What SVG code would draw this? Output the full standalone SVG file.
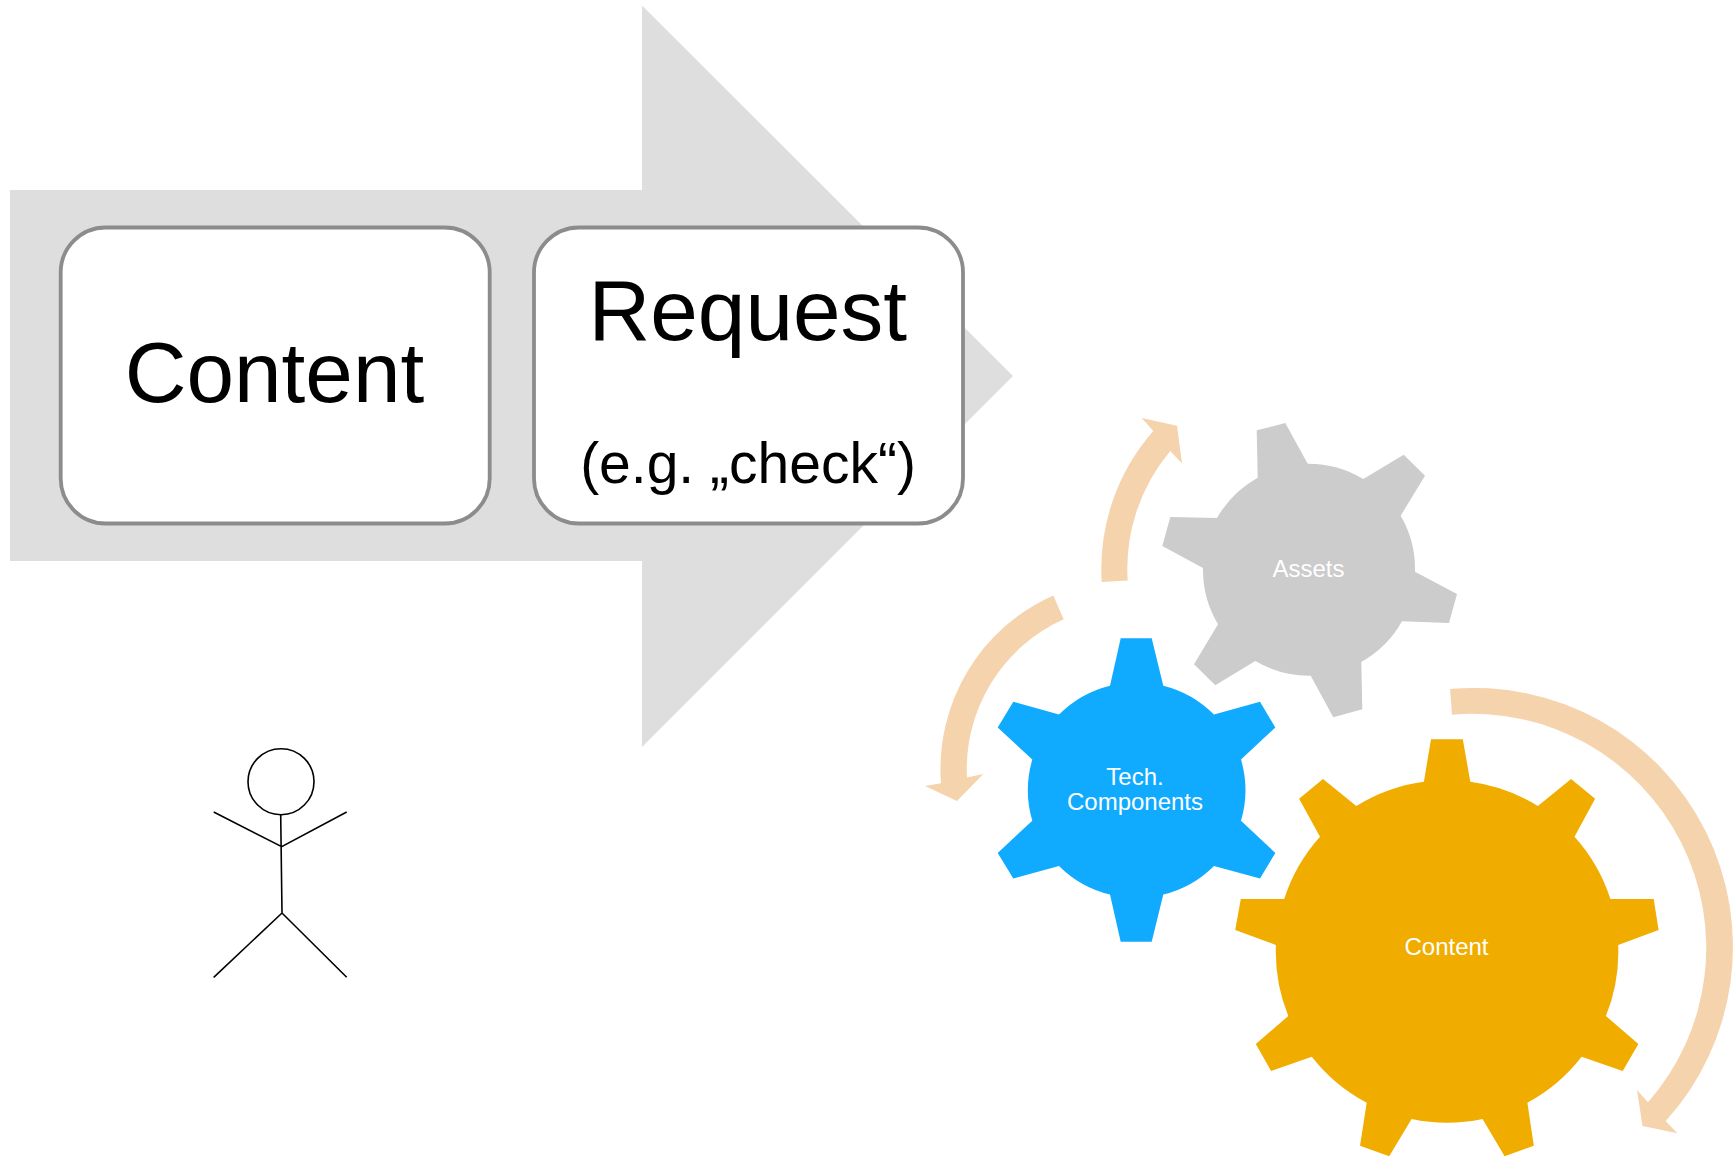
<svg xmlns="http://www.w3.org/2000/svg" width="1736" height="1157" viewBox="0 0 1736 1157">
<style>
text{font-family:"Liberation Sans",Arial,sans-serif;text-anchor:middle}
.box{fill:#fff;stroke:#8c8c8c;stroke-width:3.8}
.big{font-size:85.5px;fill:#000}
.sub{font-size:57px;fill:#000}
.lbl{font-size:24px;fill:#fff}
.turn{fill:#f5d3ad}
.fig{fill:none;stroke:#000;stroke-width:1.6}
</style>
<rect width="1736" height="1157" fill="#fff"/>
<g id="big-arrow"><polygon points="10,190 642,190 642,5.5 1013,376 642,747 642,561 10,561" fill="#dedede"/></g>
<g id="box-content">
<rect class="box" x="60.7" y="227.5" width="429" height="296" rx="45" ry="45"/>
<text class="big" x="274.5" y="401.5">Content</text>
</g>
<g id="box-request">
<rect class="box" x="534" y="227.5" width="429" height="296" rx="45" ry="45"/>
<text class="big" x="747.8" y="339.5">Request</text>
<text class="sub" x="748" y="483">(e.g. „check“)</text>
</g>
<g id="actor">
<circle class="fig" cx="281" cy="781.7" r="33"/>
<path class="fig" d="M280.7,814.7 L282,913 M213.7,812 L281.7,846.7 L346.7,812 M213.7,977.3 L282,913 L346.7,977.3"/>
</g>
<g id="gear-assets">
<path fill="#cccccc" d="M1256.7,430.3 L1285.3,423 L1307.7,463.7 A106 106 0 0 1 1363.3,479 L1403.7,454.7 L1425,475.7 L1400.7,515.7 A106 106 0 0 1 1415,571.7 L1457,594 L1449,623 L1402,621.3 A106 106 0 0 1 1361.3,662 L1362.3,709.3 L1333.3,717.3 L1310.7,675.7 A106 106 0 0 1 1255.3,661 L1215.3,685.3 L1194,664.3 L1218,624.3 A106 106 0 0 1 1203,568 L1162.3,546 L1170.3,517 L1217,518 A106 106 0 0 1 1257.7,477.7 Z"/>
<text class="lbl" x="1308.5" y="577">Assets</text>
</g>
<g id="gear-tech">
<path fill="#10aaff" d="M1120.7,638.2 L1151.7,638.2 L1163.3,685.7 A108 108 0 0 1 1214,714.6 L1260,701.8 L1275.3,727.5 L1241,759.6 A108 108 0 0 1 1241,820.7 L1275.3,852.9 L1260,878.6 L1214,866 A108 108 0 0 1 1163.3,894.6 L1151.7,941.8 L1120.7,941.8 L1110,894.6 A108 108 0 0 1 1059,866 L1013.3,878.6 L997.7,852.9 L1032.3,820.7 A108 108 0 0 1 1032.3,759.6 L997.7,727.5 L1013.3,701.8 L1059,714.6 A108 108 0 0 1 1110,685.7 Z"/>
<text class="lbl" x="1135" y="784.5">Tech.</text>
<text class="lbl" x="1135" y="809.5">Components</text>
</g>
<g id="gear-content">
<path fill="#f0ad00" d="M1431,739.3 L1462.8,739.3 L1470.3,781.7 A171 171 0 0 1 1537.9,806 L1571.1,779 L1595.1,798.7 L1574.5,836.7 A171 171 0 0 1 1610.4,899 L1653.7,899 L1658.6,930 L1618.2,945 A171 171 0 0 1 1605.9,1016 L1638.4,1044 L1622.7,1071 L1581.6,1056.7 A171 171 0 0 1 1527.4,1102.7 L1533.8,1145.7 L1504.6,1156.3 L1482.6,1119 A171 171 0 0 1 1411.6,1119 L1389.2,1156.3 L1360,1145.7 L1366.7,1102.7 A171 171 0 0 1 1311.8,1056.7 L1271.1,1071 L1255.8,1044 L1288.3,1016 A171 171 0 0 1 1275.9,945 L1235.2,930 L1240.8,899 L1284.2,899 A171 171 0 0 1 1320,836.7 L1299.1,798.7 L1323,779 L1356.3,806 A171 171 0 0 1 1423.9,781.7 Z"/>
<text class="lbl" x="1446.5" y="955">Content</text>
</g>
<g id="connectors">
<path class="turn" d="M1450.1,689 A259 259 0 0 1 1665.7,1121 L1677.3,1133.3 L1642.5,1126 L1637,1090 L1648,1102.3 A234 234 0 0 0 1452,714.7 Z"/>
<path class="turn" d="M1101.7,582.1 A209 209 0 0 1 1153.3,431 L1141.7,417.9 L1177,425.7 L1182,463.6 L1170.3,451 A183 183 0 0 0 1127.7,580.4 Z"/>
<path class="turn" d="M1053.3,595.4 A190 190 0 0 0 941,783.2 L925,786 L957,801 L983.3,773.9 L967,777.5 A164 164 0 0 1 1063.7,619.3 Z"/>
</g>
</svg>
